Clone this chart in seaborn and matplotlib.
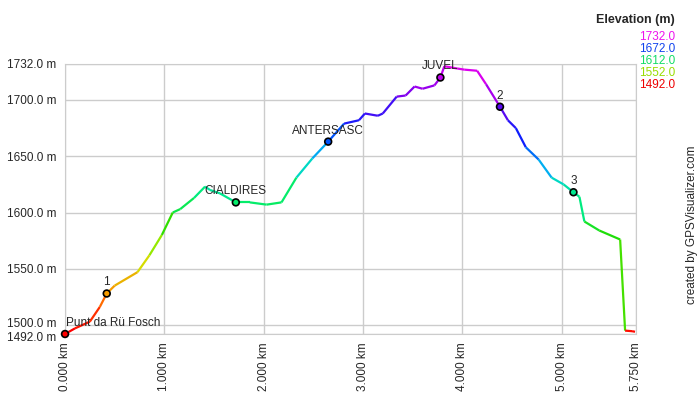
import numpy as np
import pandas as pd
import seaborn as sns
from matplotlib import pyplot as plt
from matplotlib.collections import LineCollection
from matplotlib.colors import LinearSegmentedColormap
from matplotlib.transforms import ScaledTranslation

# track profile (km, m)
dist_km = [0.00, 0.10, 0.25, 0.35, 0.42, 0.50, 0.73, 0.85, 0.975, 1.085, 1.16,
           1.30, 1.41, 1.46, 1.56, 1.72, 1.86, 2.03, 2.18, 2.33, 2.49, 2.65,
           2.81, 2.96, 3.02, 3.15, 3.20, 3.34, 3.43, 3.52, 3.60, 3.72, 3.78,
           3.82, 3.95, 4.02, 4.15, 4.24, 4.38, 4.46, 4.54, 4.64, 4.77, 4.90,
           5.02, 5.12, 5.18, 5.23, 5.38, 5.59, 5.64, 5.71, 5.74]
elev_m = [1492, 1497, 1503, 1516, 1528, 1535, 1547, 1562, 1580, 1600, 1603,
          1613, 1623, 1620, 1617, 1609, 1609, 1607, 1609, 1631, 1648, 1663,
          1679, 1682, 1688, 1686, 1688, 1703, 1704, 1712, 1710, 1713, 1720,
          1730, 1728, 1727, 1726, 1714, 1694, 1682, 1675, 1658, 1647, 1631,
          1625, 1618, 1614, 1592, 1584, 1576, 1495, 1494.5, 1494]

wpt_names = ['Punt da Rü Fosch', '1', 'CIALDIRES', 'ANTERSASC', 'JUVEL', '2', '3']
wpt_km = [0.00, 0.42, 1.72, 2.65, 3.78, 4.38, 5.12]
wpt_m = [1492, 1528, 1609, 1663, 1720, 1694, 1618]

y_ticks = [1492, 1500, 1550, 1600, 1650, 1700, 1732]
x_ticks = [0, 1, 2, 3, 4, 5, 5.75]
legend_vals = [1732.0, 1672.0, 1612.0, 1552.0, 1492.0]
legend_cols = ['#ee11ee', '#1144ee', '#11dd66', '#99dd00', '#ee0000']

sns.set_style('white')
plt.rcParams['font.family'] = ['Liberation Sans', 'DejaVu Sans']
plt.rcParams['font.size'] = 8.5

cmap = LinearSegmentedColormap.from_list('elev', [
    (0.0, '#ff0000'), (0.125, '#ff8800'), (0.25, '#ccee00'), (0.375, '#22dd00'),
    (0.5, '#00ee77'), (0.625, '#00ccee'), (0.75, '#0022ff'), (0.875, '#7700ee'),
    (1.0, '#ee00ee')])

fig = plt.figure(figsize=(7, 4), dpi=100)
ax = fig.add_axes([0.0929, 0.165, 0.8157, 0.675])

df = pd.DataFrame({'km': dist_km, 'm': elev_m})
pts = df[['km', 'm']].to_numpy()
segs = np.stack([pts[:-1], pts[1:]], axis=1)
lc = LineCollection(segs, cmap=cmap, linewidth=1.6)
lc.set_array(np.array(elev_m[:-1]))
lc.set_clim(1492, 1732)
ax.add_collection(lc)

wdf = pd.DataFrame({'km': wpt_km, 'm': wpt_m, 'name': wpt_names})
fills = [cmap((v - 1492) / 240) for v in wpt_m]
sns.scatterplot(data=wdf, x='km', y='m', ax=ax, s=24, c=fills,
                edgecolor='black', linewidth=1.2, zorder=5)
for coll in ax.collections[1:]:
    coll.set_clip_on(False)
for _, r in wdf.iterrows():
    if r['name'] == 'Punt da Rü Fosch':
        ax.text(r['km'] + 0.01, r['m'] + 4.5, r['name'], ha='left', va='bottom')
    else:
        ax.text(r['km'], r['m'] + 4.5, r['name'], ha='center', va='bottom')

ax.set_xlim(0, 5.75)
ax.set_ylim(1492, 1732)
ax.set_xticks(x_ticks)
ax.set_xticklabels([f'{v:.3f} km' for v in x_ticks], rotation=90)
ax.set_yticks(y_ticks)
ax.set_yticklabels([f'{v:.1f} m' for v in y_ticks])
ax.tick_params(length=0, pad=6, labelsize=8.5)
ax.grid(True, color='#cccccc', linewidth=1)
for s in ax.spines.values():
    s.set_color('#cccccc')
ax.set_xlabel('')
ax.set_ylabel('')

# the two lowest labels sit close together; push them slightly apart
ylabs = ax.get_yticklabels()
ylabs[0].set_transform(ylabs[0].get_transform() + ScaledTranslation(0, -2 / 72, fig.dpi_scale_trans))
ylabs[1].set_transform(ylabs[1].get_transform() + ScaledTranslation(0, 1.5 / 72, fig.dpi_scale_trans))

fig.text(675 / 700, 1 - 20 / 400, 'Elevation (m)', ha='right', va='center',
         fontweight='bold', fontsize=9)
for i, (v, c) in enumerate(zip(legend_vals, legend_cols)):
    fig.text(675 / 700, 1 - (37 + i * 12) / 400, f'{v:.1f}', ha='right',
             va='center', color=c, fontsize=8.5)
fig.text(692 / 700, 1 - 225 / 400, 'created by GPSVisualizer.com', rotation=90,
         ha='center', va='center', fontsize=8.5)

fig.savefig('out.png', dpi=100)
